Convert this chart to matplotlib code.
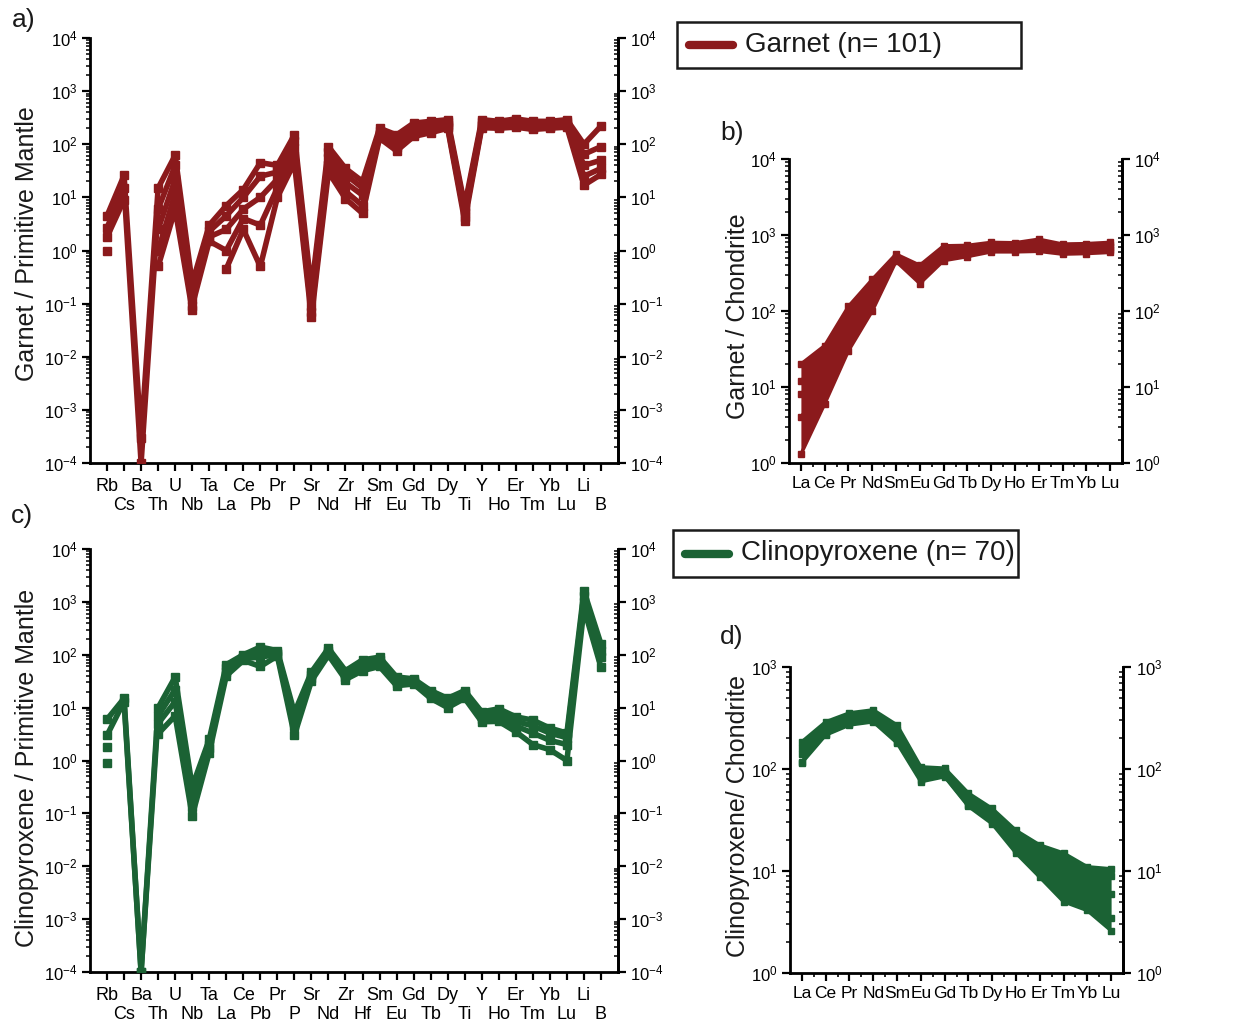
import numpy as np
import matplotlib
matplotlib.use("Agg")
import matplotlib.pyplot as plt
from matplotlib.ticker import LogLocator, FixedLocator, FixedFormatter, NullFormatter, LogFormatterSciNotation
from matplotlib.lines import Line2D
from matplotlib.patches import Rectangle

plt.rcParams["font.family"] = ["Liberation Sans", "DejaVu Sans"]
plt.rcParams["mathtext.fontset"] = "custom"
plt.rcParams["mathtext.rm"] = "Liberation Sans"
plt.rcParams["mathtext.it"] = "Liberation Sans:italic"
plt.rcParams["mathtext.bf"] = "Liberation Sans:bold"
plt.rcParams["text.color"] = "#1a1a1a"

nan = np.nan

# ---- element order -------------------------------------------------------
pm_elements = ["Rb", "Cs", "Ba", "Th", "U", "Nb", "Ta", "La", "Ce", "Pb",
               "Pr", "P", "Sr", "Nd", "Zr", "Hf", "Sm", "Eu", "Gd", "Tb",
               "Dy", "Ti", "Y", "Ho", "Er", "Tm", "Yb", "Lu", "Li", "B"]
ree_elements = ["La", "Ce", "Pr", "Nd", "Sm", "Eu", "Gd", "Tb", "Dy", "Ho",
                "Er", "Tm", "Yb", "Lu"]

# ---- garnet, primitive-mantle normalised ---------------------------------
grt_pm_1 = [4.5, 26, 3e-4, 15, 62, 0.24, 3.0, 7.0, 14, 45, 40, 150, 0.18, 90, 35, 20,
            200, 150, 250, 270, 290, 7.0, 290, 270, 300, 270, 270, 290, 100, 220]
grt_pm_2 = [2.7, 15, 1e-4, 6, 40, 0.17, 2.3, 4.5, 10, 25, 30, 115, 0.13, 70, 27, 15,
            175, 125, 210, 240, 260, 6.0, 260, 250, 270, 240, 250, 260, 65, 90]
grt_pm_3 = [1.8, 9, nan, 2.5, 22, 0.12, 1.8, 2.5, 6, 10, 22, 85, 0.09, 55, 19, 11,
            155, 105, 180, 210, 235, 5.0, 235, 230, 245, 220, 230, 240, 40, 50]
grt_pm_4 = [1.0, nan, nan, 1.0, 12, 0.09, 1.5, 1.0, 4, 3, 15, 60, 0.07, 40, 13, 7,
            140, 88, 155, 185, 215, 4.3, 220, 210, 225, 205, 210, 220, 25, 35]
grt_pm_5 = [nan, nan, nan, 0.5, 6, 0.075, nan, 0.45, 2.5, 0.5, 10, 45, 0.055, 30, 9.5, 5,
            130, 75, 140, 165, 200, 3.6, 205, 200, 210, 190, 200, 210, 17, 27]

# ---- garnet, chondrite normalised ----------------------------------------
grt_cn_1 = [20, 35, 115, 260, 560, 400, 720, 730, 800, 790, 880, 760, 770, 800]
grt_cn_2 = [12, 25, 85, 200, 520, 340, 650, 680, 740, 740, 780, 690, 700, 740]
grt_cn_3 = [8, 17, 60, 160, 490, 300, 580, 620, 690, 690, 720, 640, 650, 690]
grt_cn_4 = [4, 11, 45, 130, 470, 260, 520, 570, 640, 640, 660, 600, 610, 640]
grt_cn_5 = [1.3, 6, 30, 100, 450, 230, 460, 520, 600, 600, 610, 560, 570, 590]

# ---- clinopyroxene, primitive-mantle normalised --------------------------
cpx_pm_1 = [6, 15, 1e-4, 10, 38, 0.32, 2.5, 65, 100, 140, 120, 8, 47, 133, 50, 80,
            90, 38, 35, 21, 15, 21, 8.3, 9.5, 6.7, 5.8, 4.1, 3.3, 1600, 160]
cpx_pm_2 = [3, 13, 1e-4, 7, 22, 0.20, 2.0, 55, 92, 110, 110, 6, 42, 118, 43, 68,
            80, 33, 32, 19, 13, 19, 7.0, 8.0, 5.5, 4.5, 3.3, 2.7, 1300, 120]
cpx_pm_3 = [1.8, nan, nan, 5, 13, 0.13, 1.7, 48, 85, 90, 102, 4.5, 37, 108, 38, 60,
            70, 29, 30, 17, 12, 17, 6.2, 6.5, 4.5, 3.3, 2.4, 2.0, 1000, 90]
cpx_pm_4 = [0.9, nan, nan, 3.2, 7, 0.09, 1.4, 40, 78, 60, 95, 3, 32, 98, 34, 50,
            60, 26, 28, 15, 10, 15, 5.4, 5.5, 3.5, 2.0, 1.6, 1.0, 750, 58]

# ---- clinopyroxene, chondrite normalised ---------------------------------
cpx_cn_1 = [185, 290, 355, 380, 270, 105, 102, 58, 41, 25, 18, 15, 11, 10.5]
cpx_cn_2 = [160, 265, 325, 350, 240, 97, 96, 53, 37, 21, 15, 12, 9, 9]
cpx_cn_3 = [140, 245, 300, 325, 215, 90, 91, 49, 34, 19, 12, 9, 7, 6]
cpx_cn_4 = [118, 220, 275, 295, 185, 78, 85, 44, 30, 16, 9.5, 6, 4.5, 3.5]
cpx_cn_5 = [115, 215, 270, 290, 180, 75, 84, 43, 29, 15, 8.7, 5, 4.1, 2.6]

GRT_COLOR = "#8b1a1c"
CPX_COLOR = "#1b6234"

W, H = 1236, 1024
fig = plt.figure(figsize=(W / 100, H / 100), dpi=100)


def px_axes(left, top, right, bottom):
    return fig.add_axes([left / W, 1 - bottom / H, (right - left) / W, (bottom - top) / H])


def style(ax, labels, ylim, xlim, two_rows, xfs):
    ax.set_yscale("log")
    ax.set_ylim(*ylim)
    ax.set_xlim(*xlim)
    ax.spines["top"].set_visible(False)
    for s in ("left", "bottom", "right"):
        ax.spines[s].set_linewidth(2.0)
    ax.yaxis.set_major_locator(LogLocator(base=10, numticks=30))
    ax.yaxis.set_minor_locator(LogLocator(base=10, subs=np.arange(2, 10), numticks=300))
    ax.yaxis.set_minor_formatter(NullFormatter())
    ax.yaxis.set_major_formatter(LogFormatterSciNotation())
    ax.tick_params(axis="y", which="major", direction="out", length=6, width=1.6,
                   labelsize=12, pad=3, right=False)
    ax.tick_params(axis="y", which="minor", direction="out", length=3, width=1.1, right=False)

    pos = np.arange(len(labels))
    if two_rows:
        # alternate element names on two staggered rows
        ax.xaxis.set_major_locator(FixedLocator(pos[0::2]))
        ax.xaxis.set_major_formatter(FixedFormatter(labels[0::2]))
        ax.xaxis.set_minor_locator(FixedLocator(pos[1::2]))
        ax.xaxis.set_minor_formatter(FixedFormatter(labels[1::2]))
        ax.tick_params(axis="x", which="major", direction="out", length=6, width=1.6,
                       pad=4.5, labelsize=xfs, top=False)
        ax.tick_params(axis="x", which="minor", direction="out", length=6, width=1.6,
                       pad=18.5, labelsize=xfs, top=False)
    else:
        ax.xaxis.set_major_locator(FixedLocator(pos))
        ax.xaxis.set_major_formatter(FixedFormatter(labels))
        ax.xaxis.set_minor_locator(FixedLocator(pos[:-1] + 0.5))
        ax.tick_params(axis="x", which="major", direction="out", length=6, width=1.6,
                       pad=3.5, labelsize=xfs, top=False)
        ax.tick_params(axis="x", which="minor", direction="out", length=3, width=1.2, top=False)

    tw = ax.twinx()
    tw.set_yscale("log")
    tw.set_ylim(*ylim)
    for s in ("top", "left", "bottom"):
        tw.spines[s].set_visible(False)
    tw.spines["right"].set_linewidth(2.0)
    tw.yaxis.set_major_locator(LogLocator(base=10, numticks=30))
    tw.yaxis.set_minor_locator(LogLocator(base=10, subs=np.arange(2, 10), numticks=300))
    tw.yaxis.set_minor_formatter(NullFormatter())
    tw.yaxis.set_major_formatter(LogFormatterSciNotation())
    tw.tick_params(axis="y", which="major", direction="out", length=6, width=1.6, labelsize=12, pad=3)
    tw.tick_params(axis="y", which="minor", direction="in", length=3, width=1.1)
    return tw


def draw_profiles(ax, profiles, color, lw, ms, band=False):
    x = np.arange(len(profiles[0]))
    arr = np.array(profiles, dtype=float)
    if band:
        ax.fill_between(x, np.nanmin(arr, axis=0), np.nanmax(arr, axis=0),
                        color=color, lw=0, zorder=2)
    for p in arr:
        ax.plot(x, p, color=color, lw=lw, marker="s", ms=ms, mec=color, mfc=color, zorder=3)


# ---- panel a --------------------------------------------------------------
ax_a = px_axes(90, 38, 618, 463)
style(ax_a, pm_elements, (1e-4, 1e4), (-1, 30), True, 13)
draw_profiles(ax_a, [grt_pm_1, grt_pm_2, grt_pm_3, grt_pm_4, grt_pm_5], GRT_COLOR, 4.0, 6)

# ---- panel b --------------------------------------------------------------
ax_b = px_axes(789, 159, 1122, 463)
style(ax_b, ree_elements, (1, 1e4), (-0.5, 13.5), False, 12.5)
draw_profiles(ax_b, [grt_cn_1, grt_cn_2, grt_cn_3, grt_cn_4, grt_cn_5], GRT_COLOR, 2.5, 4.5, band=True)

# ---- panel c --------------------------------------------------------------
ax_c = px_axes(90, 549, 618, 972)
style(ax_c, pm_elements, (1e-4, 1e4), (-1, 30), True, 13)
draw_profiles(ax_c, [cpx_pm_1, cpx_pm_2, cpx_pm_3, cpx_pm_4], CPX_COLOR, 4.0, 6)

# ---- panel d --------------------------------------------------------------
ax_d = px_axes(790, 667, 1123, 973)
style(ax_d, ree_elements, (1, 1e3), (-0.5, 13.5), False, 12.5)
draw_profiles(ax_d, [cpx_cn_1, cpx_cn_2, cpx_cn_3, cpx_cn_4, cpx_cn_5], CPX_COLOR, 2.5, 4.5, band=True)

# ---- axis titles and panel letters ---------------------------------------
def ftext(x, y, s, **kw):
    fig.text(x / W, 1 - y / H, s, **kw)

ftext(27, 244, "Garnet / Primitive Mantle", rotation=90, ha="center", va="center", fontsize=18)
ftext(27, 768, "Clinopyroxene / Primitive Mantle", rotation=90, ha="center", va="center", fontsize=18)
ftext(738, 316, "Garnet / Chondrite", rotation=90, ha="center", va="center", fontsize=18)
ftext(738, 816, "Clinopyroxene/ Chondrite", rotation=90, ha="center", va="center", fontsize=18)

ftext(24, 20, "a)", ha="center", va="center", fontsize=19)
ftext(732, 133, "b)", ha="center", va="center", fontsize=19)
ftext(22, 516, "c)", ha="center", va="center", fontsize=19)
ftext(732, 637, "d)", ha="center", va="center", fontsize=19)

# ---- legend boxes ----------------------------------------------------------
def legend_box(left, top, right, bottom, color, label):
    fig.add_artist(Rectangle((left / W, 1 - bottom / H), (right - left) / W, (bottom - top) / H,
                             transform=fig.transFigure, fill=False, ec="#1a1a1a", lw=1.8))
    yc = 1 - (top + bottom) / 2 / H
    fig.add_artist(Line2D([(left + 12) / W, (left + 56) / W], [yc, yc], transform=fig.transFigure,
                          color=color, lw=6, solid_capstyle="round"))
    fig.text((left + 68) / W, yc, label, ha="left", va="center", fontsize=20)

legend_box(677, 22, 1021, 68, GRT_COLOR, "Garnet (n= 101)")
legend_box(673, 530, 1018, 577, CPX_COLOR, "Clinopyroxene (n= 70)")

fig.savefig("out.png", dpi=100)
